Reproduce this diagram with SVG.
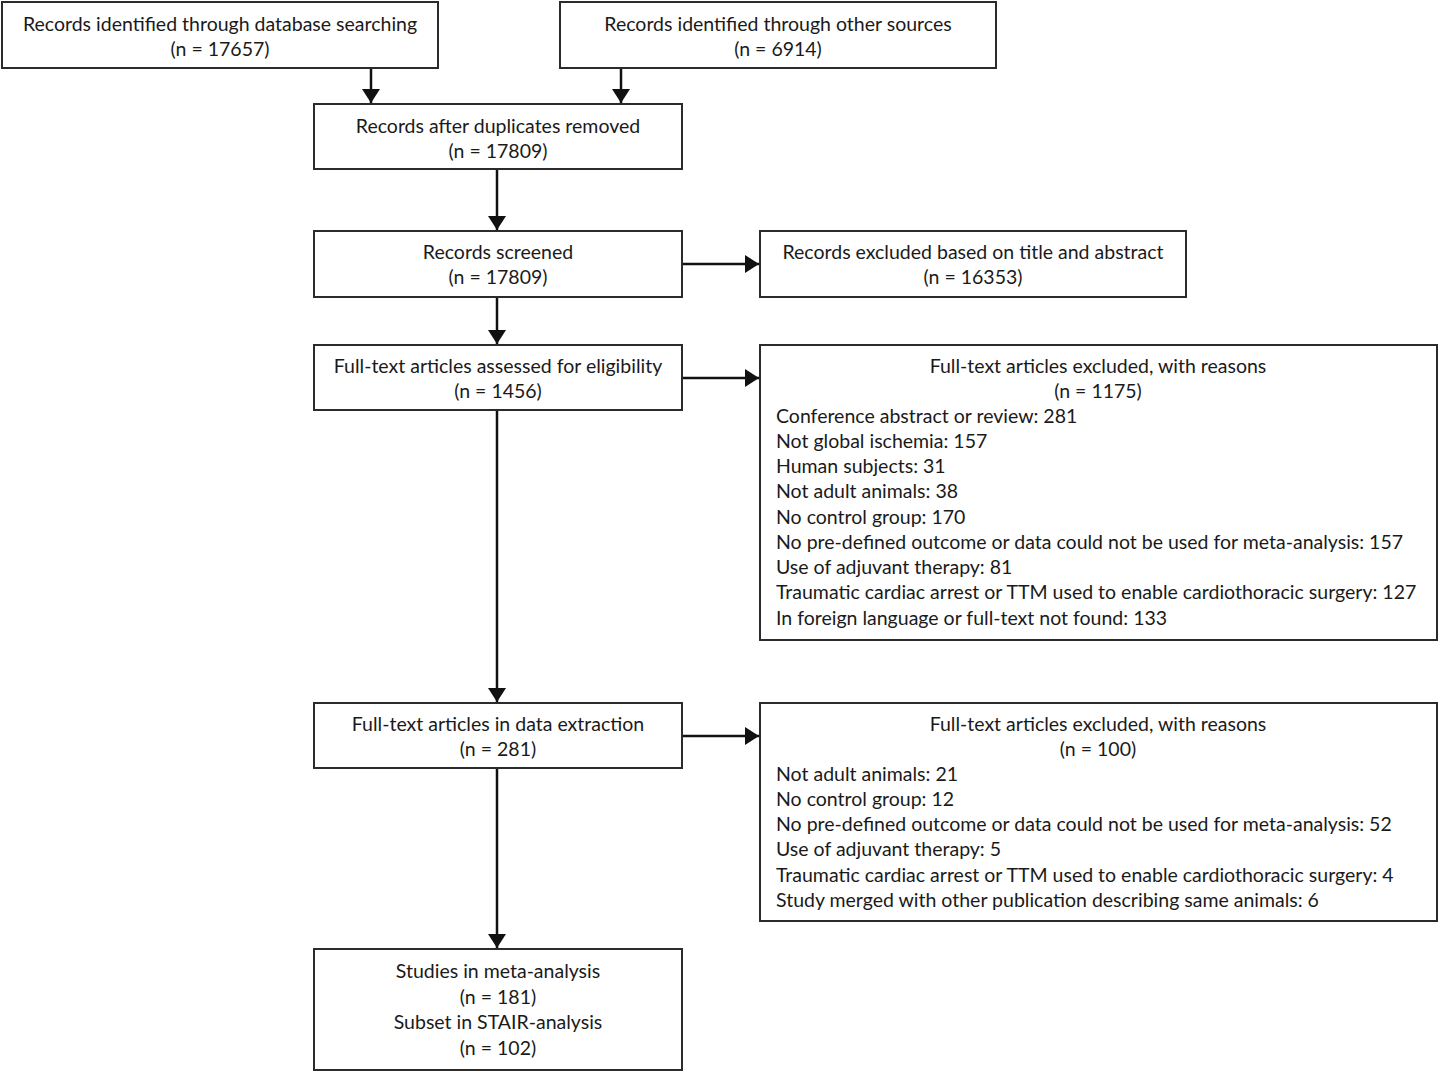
<svg xmlns="http://www.w3.org/2000/svg" width="1440" height="1073" viewBox="0 0 1440 1073">
<style>
.box{fill:#fff;stroke:#2b2b2b;stroke-width:2}
.t{font-family:Lato,"Open Sans","Liberation Sans",sans-serif;font-size:19.5px;fill:#1a1a1a}
.c{text-anchor:middle}
.con{stroke:#111;stroke-width:2.5;fill:none}
</style>
<defs>
<marker id="ah" markerWidth="14" markerHeight="18" refX="14" refY="9" orient="auto" markerUnits="userSpaceOnUse" viewBox="0 0 14 18">
<path d="M0,0 L14,9 L0,18 z" fill="#111"/>
</marker>
</defs>
<rect width="1440" height="1073" fill="#fff"/>
<g id="connectors">
<line class="con" x1="371" y1="69" x2="371" y2="103" marker-end="url(#ah)"/>
<line class="con" x1="621" y1="69" x2="621" y2="103" marker-end="url(#ah)"/>
<line class="con" x1="497" y1="170" x2="497" y2="230" marker-end="url(#ah)"/>
<line class="con" x1="497" y1="298" x2="497" y2="344" marker-end="url(#ah)"/>
<line class="con" x1="497" y1="411" x2="497" y2="702" marker-end="url(#ah)"/>
<line class="con" x1="497" y1="769" x2="497" y2="948" marker-end="url(#ah)"/>
<line class="con" x1="683" y1="264" x2="759" y2="264" marker-end="url(#ah)"/>
<line class="con" x1="683" y1="378" x2="759" y2="378" marker-end="url(#ah)"/>
<line class="con" x1="683" y1="736" x2="759" y2="736" marker-end="url(#ah)"/>
</g>
<g id="n1"><rect class="box" x="2" y="2" width="436" height="66"/>
<text class="t c" x="220" y="31">Records identified through database searching</text>
<text class="t c" x="220" y="56">(n = 17657)</text></g>
<g id="n2"><rect class="box" x="560" y="2" width="436" height="66"/>
<text class="t c" x="778" y="31">Records identified through other sources</text>
<text class="t c" x="778" y="56">(n = 6914)</text></g>
<g id="n3"><rect class="box" x="314" y="104" width="368" height="65"/>
<text class="t c" x="498" y="133">Records after duplicates removed</text>
<text class="t c" x="498" y="158">(n = 17809)</text></g>
<g id="n4"><rect class="box" x="314" y="231" width="368" height="66"/>
<text class="t c" x="498" y="259">Records screened</text>
<text class="t c" x="498" y="284">(n = 17809)</text></g>
<g id="n5"><rect class="box" x="760" y="231" width="426" height="66"/>
<text class="t c" x="973" y="259">Records excluded based on title and abstract</text>
<text class="t c" x="973" y="284">(n = 16353)</text></g>
<g id="n6"><rect class="box" x="314" y="345" width="368" height="65"/>
<text class="t c" x="498" y="373">Full-text articles assessed for eligibility</text>
<text class="t c" x="498" y="398">(n = 1456)</text></g>
<g id="n7"><rect class="box" x="760" y="345" width="677" height="295"/>
<text class="t c" x="1098" y="373">Full-text articles excluded, with reasons</text>
<text class="t c" x="1098" y="398">(n = 1175)</text>
<text class="t" x="776" y="423">Conference abstract or review: 281</text>
<text class="t" x="776" y="448">Not global ischemia: 157</text>
<text class="t" x="776" y="473">Human subjects: 31</text>
<text class="t" x="776" y="498">Not adult animals: 38</text>
<text class="t" x="776" y="524">No control group: 170</text>
<text class="t" x="776" y="549">No pre-defined outcome or data could not be used for meta-analysis: 157</text>
<text class="t" x="776" y="574">Use of adjuvant therapy: 81</text>
<text class="t" x="776" y="599">Traumatic cardiac arrest or TTM used to enable cardiothoracic surgery: 127</text>
<text class="t" x="776" y="625">In foreign language or full-text not found: 133</text></g>
<g id="n8"><rect class="box" x="314" y="703" width="368" height="65"/>
<text class="t c" x="498" y="731">Full-text articles in data extraction</text>
<text class="t c" x="498" y="756">(n = 281)</text></g>
<g id="n9"><rect class="box" x="760" y="703" width="677" height="218"/>
<text class="t c" x="1098" y="731">Full-text articles excluded, with reasons</text>
<text class="t c" x="1098" y="756">(n = 100)</text>
<text class="t" x="776" y="781">Not adult animals: 21</text>
<text class="t" x="776" y="806">No control group: 12</text>
<text class="t" x="776" y="831">No pre-defined outcome or data could not be used for meta-analysis: 52</text>
<text class="t" x="776" y="856">Use of adjuvant therapy: 5</text>
<text class="t" x="776" y="882">Traumatic cardiac arrest or TTM used to enable cardiothoracic surgery: 4</text>
<text class="t" x="776" y="907">Study merged with other publication describing same animals: 6</text></g>
<g id="n10"><rect class="box" x="314" y="949" width="368" height="121"/>
<text class="t c" x="498" y="978">Studies in meta-analysis</text>
<text class="t c" x="498" y="1004">(n = 181)</text>
<text class="t c" x="498" y="1029">Subset in STAIR-analysis</text>
<text class="t c" x="498" y="1055">(n = 102)</text></g>
</svg>
